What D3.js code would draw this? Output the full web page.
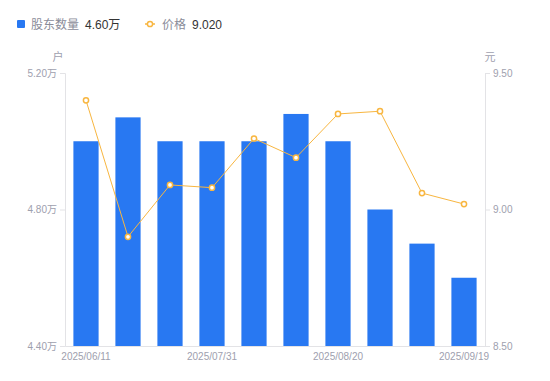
<!DOCTYPE html>
<html><head><meta charset="utf-8">
<script src="https://cdn.jsdelivr.net/npm/d3@7"></script>
<style>body{margin:0;background:#fff;font-family:"Liberation Sans","Noto Sans CJK SC",sans-serif;}</style>
</head><body><svg id="c" width="550" height="381"></svg>
<script>
const dates = ["2025/06/11","2025/06/20","2025/06/30","2025/07/31","2025/08/10","2025/08/15","2025/08/20","2025/08/31","2025/09/10","2025/09/19"];
const holders = [5.00,5.07,5.00,5.00,5.00,5.08,5.00,4.80,4.70,4.60];
const prices = [9.40,8.90,9.09,9.08,9.26,9.19,9.35,9.36,9.06,9.02];
const leftTicks = [4.40,4.80,5.20];
const rightTicks = [8.50,9.00,9.50];
const xTickLabels = ["2025/06/11","2025/07/31","2025/08/20","2025/09/19"];

const FONT = "'Liberation Sans','Noto Sans CJK SC',sans-serif";
const svg = d3.select("#c").style("font-family",FONT);
const m = {l:65, r:485, t:73, b:346};
const x = d3.scaleBand().domain(dates).range([m.l, m.r]).paddingInner(0.4).paddingOuter(0.2);
const yL = d3.scaleLinear().domain([4.40,5.20]).range([m.b, m.t]);
const yR = d3.scaleLinear().domain([8.50,9.50]).range([m.b, m.t]);
const gray = "#9ea0ae", axisC = "#e3e3e6";

// axes
const la = svg.append("g").attr("transform",`translate(${m.l},0)`)
  .call(d3.axisLeft(yL).tickValues(leftTicks).tickSize(5).tickPadding(3).tickFormat(d=>d3.format(".2f")(d)+"万"));
const ra = svg.append("g").attr("transform",`translate(${m.r},0)`)
  .call(d3.axisRight(yR).tickValues(rightTicks).tickSize(5).tickPadding(3).tickFormat(d3.format(".2f")));
const ba = svg.append("g").attr("transform",`translate(0,${m.b})`)
  .call(d3.axisBottom(x).tickValues(xTickLabels).tickSize(0).tickPadding(7));
[la,ra,ba].forEach(g=>{
  g.selectAll("path,line").attr("stroke",axisC);
  g.selectAll("text").attr("fill",gray).style("font-size","10px").style("font-family",FONT);
});

// bars
svg.append("g").selectAll("rect").data(holders).join("rect")
  .attr("x",(d,i)=>x(dates[i])).attr("width",x.bandwidth())
  .attr("y",d=>yL(d)).attr("height",d=>m.b-yL(d)).attr("fill","#2878f2");

// line
const cx = (i)=>x(dates[i])+x.bandwidth()/2;
svg.append("path").datum(prices)
  .attr("d", d3.line().x((d,i)=>cx(i)).y(d=>yR(d)))
  .attr("fill","none").attr("stroke","#f8b640").attr("stroke-width",1);
svg.append("g").selectAll("circle").data(prices).join("circle")
  .attr("cx",(d,i)=>cx(i)).attr("cy",d=>yR(d)).attr("r",2.6)
  .attr("fill","#fff").attr("stroke","#f8b640").attr("stroke-width",1.5);

// axis names
svg.append("text").attr("x",58).attr("y",61).attr("text-anchor","middle").attr("fill",gray).style("font-size","11px").text("户");
svg.append("text").attr("x",490).attr("y",61).attr("text-anchor","middle").attr("fill",gray).style("font-size","11px").text("元");

// legend
const lg = svg.append("g").style("font-size","12px");
lg.append("rect").attr("x",17).attr("y",20).attr("width",8).attr("height",8).attr("rx",1).attr("fill","#2878f2");
lg.append("text").attr("x",31).attr("y",28.5).attr("fill","#8a8c99").text("股东数量");
lg.append("text").attr("x",85).attr("y",28.5).attr("fill","#333").text(d3.format(".2f")(holders[holders.length-1])+"万");
lg.append("line").attr("x1",145).attr("x2",155).attr("y1",24).attr("y2",24).attr("stroke","#f8b640").attr("stroke-width",1.5);
lg.append("circle").attr("cx",150).attr("cy",24).attr("r",2.6).attr("fill","#fff").attr("stroke","#f8b640").attr("stroke-width",1.5);
lg.append("text").attr("x",162).attr("y",28.5).attr("fill","#8a8c99").text("价格");
lg.append("text").attr("x",192).attr("y",28.5).attr("fill","#333").text(d3.format(".3f")(prices[prices.length-1]));
</script></body></html>
